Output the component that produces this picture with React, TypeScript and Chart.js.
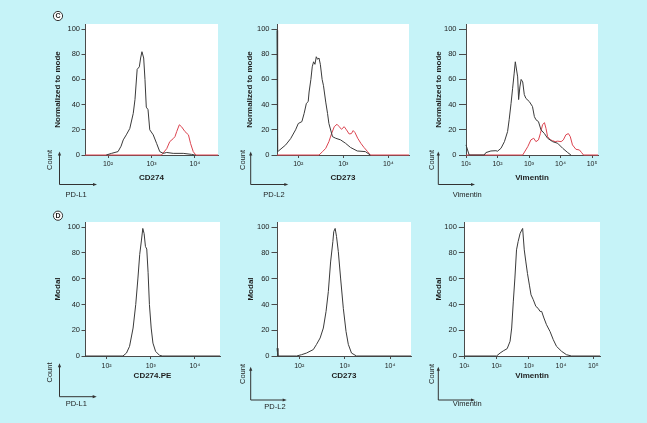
import React, { useEffect, useRef } from 'react';
import { Chart, registerables } from 'chart.js';
Chart.register(...registerables);

// ---------- DATA (x = log10 of fluorescence intensity, y = % of mode) ----------
// Panel C, CD274 (PD-L1)
const cd274BlackExp = [1.96, 2.08, 2.23, 2.30, 2.35, 2.42, 2.50, 2.58, 2.62, 2.67, 2.72, 2.75, 2.78, 2.82, 2.85, 2.88, 2.92, 2.96, 3.04, 3.12, 3.19, 3.27, 3.35, 3.50, 3.73, 3.92, 4.0];
const cd274BlackPct = [0, 1.3, 2.7, 7, 12, 16, 21, 33, 44, 68, 70, 77, 82, 77, 60, 38, 36, 20, 16, 9, 2.7, 1.3, 2, 1.3, 1.3, 0.5, 0];
const cd274RedExp = [1.47, 3.23, 3.35, 3.42, 3.50, 3.54, 3.58, 3.64, 3.69, 3.77, 3.85, 3.90, 3.96, 4.02, 4.53];
const cd274RedPct = [0, 0, 5, 10.6, 13, 14.6, 18.6, 24, 22.5, 18.6, 16, 9, 2.7, 0, 0];

// Panel C, CD273 (PD-L2)
const cd273BlackExp = [1.527, 1.54, 1.56, 1.72, 1.83, 1.94, 2.0, 2.08, 2.13, 2.18, 2.22, 2.24, 2.28, 2.31, 2.34, 2.37, 2.40, 2.43, 2.46, 2.49, 2.53, 2.56, 2.61, 2.65, 2.68, 2.76, 2.83, 2.94, 3.05, 3.16, 3.31, 3.49, 3.60];
const cd273BlackPct = [99, 3, 3.2, 8, 13, 20, 25, 26.5, 33, 41, 42.4, 50, 60, 70, 74, 72, 78, 76, 77, 72, 60, 55, 42, 33, 25, 14.6, 13.3, 12, 9.3, 6, 3.2, 2.7, 0];
const cd273RedExp = [1.527, 2.46, 2.54, 2.61, 2.68, 2.74, 2.80, 2.86, 2.91, 2.96, 3.02, 3.07, 3.13, 3.18, 3.22, 3.26, 3.32, 3.39, 3.46, 3.54, 3.60, 4.46];
const cd273RedPct = [0, 0, 2.7, 5.3, 10.6, 17, 22.5, 24.4, 22.5, 20.4, 22.5, 20, 16.7, 17, 19.4, 17.8, 13.3, 9.3, 6, 2.7, 0, 0];

// Panel C, Vimentin
const vimBlackExp = [1.0, 1.1, 1.58, 1.63, 1.79, 1.95, 2.0, 2.11, 2.22, 2.32, 2.37, 2.43, 2.48, 2.53, 2.565, 2.64, 2.67, 2.71, 2.75, 2.80, 2.85, 2.90, 3.01, 3.11, 3.17, 3.22, 3.30, 3.38, 3.49, 3.59, 3.75, 3.91, 4.07, 4.23, 4.33];
const vimBlackPct = [8, 0, 0, 1.9, 3.2, 3.4, 3, 5.3, 10.6, 18.6, 28, 41, 53, 65, 74, 62, 44, 54, 60, 58, 48, 45, 42.4, 38.5, 30.5, 28, 26.5, 20, 17, 13.3, 10.6, 9.3, 5.3, 1.9, 0];
const vimRedExp = [1.0, 2.80, 2.96, 3.06, 3.15, 3.22, 3.30, 3.36, 3.43, 3.49, 3.54, 3.59, 3.68, 3.75, 3.83, 3.91, 4.02, 4.09, 4.17, 4.25, 4.31, 4.38, 4.49, 4.60, 4.67, 4.73, 5.19];
const vimRedPct = [0, 0, 6.6, 12, 13.3, 10.6, 12, 17, 24, 25.7, 21, 14.6, 12, 11.4, 10.6, 11, 10.6, 12, 16, 17, 14.6, 8, 4.5, 4, 1.9, 0, 0];

// Panel D, CD274.PE
const cd274PeExp = [1.51, 2.37, 2.45, 2.52, 2.60, 2.66, 2.71, 2.75, 2.79, 2.82, 2.85, 2.88, 2.91, 2.94, 2.97, 3.01, 3.05, 3.11, 3.20, 3.27, 4.57];
const cd274PeModal = [0, 0, 2.3, 7.5, 21.7, 40, 60.5, 78.8, 90, 99, 95, 85, 83, 65, 40, 21.7, 10, 3.6, 0.5, 0, 0];

// Panel D, CD273
const cd273DExp = [1.51, 1.53, 1.94, 2.05, 2.16, 2.31, 2.38, 2.46, 2.53, 2.59, 2.64, 2.69, 2.74, 2.76, 2.79, 2.82, 2.86, 2.91, 2.97, 3.03, 3.08, 3.15, 3.26, 4.46];
const cd273DModal = [6, 0, 0, 1, 2.3, 5, 9, 14, 21.7, 34.6, 50, 73, 88.8, 96.6, 99, 92.8, 81, 60.5, 37, 19, 9, 2.3, 0, 0];

// Panel D, Vimentin
const vimDExp = [1.0, 2.00, 2.11, 2.21, 2.33, 2.42, 2.47, 2.52, 2.57, 2.62, 2.67, 2.73, 2.78, 2.81, 2.86, 2.91, 2.96, 3.02, 3.07, 3.14, 3.22, 3.29, 3.35, 3.40, 3.47, 3.55, 3.66, 3.76, 3.86, 4.02, 4.17, 4.33, 5.21];
const vimDModal = [0, 0, 2.3, 4, 5.7, 11.4, 21.7, 42, 60.5, 82.4, 88.8, 95, 97.7, 99, 82.4, 73, 64, 55, 47.5, 43.7, 38.5, 37, 34.6, 34.6, 29.5, 24.3, 19, 12.7, 7.5, 3.6, 1, 0, 0];

// Axis ranges (log10 units) and ticks
const cd274CRange = [1.47, 4.53];
const cd273CRange = [1.527, 4.46];
const vimCRange = [1.0, 5.19];
const cd274DRange = [1.51, 4.57];
const cd273DRange = [1.51, 4.46];
const vimDRange = [1.0, 5.21];
const yTickValues = [0, 20, 40, 60, 80, 100];
const xTicksCD = [2, 3, 4];
const xTickLabelsCD = ['10²', '10³', '10⁴'];
const xTicksVim = [1, 2, 3, 4, 5];
const xTickLabelsVim = ['10¹', '10²', '10³', '10⁴', '10⁵'];

// ---------- STYLE ----------
const FONT = '"Liberation Sans", Arial, Helvetica, sans-serif';
const BG = '#c6f3f8';
const BLACK_LINE = '#3a3a3a';
const RED_LINE = '#dc4450';
const AXIS = '#4a4a4a';
const TEXT = '#1e1e1e';

type Series = { exp: number[]; val: number[]; color: string };
type Panel = {
  left: number; top: number; width: number; height: number;
  pad: { left: number; top: number; right: number; bottom: number };
  yAxisWidth: number; xAxisHeight: number; yTickLen: number; yTickPad: number; xTickPad: number;
  range: number[]; xTicks: number[]; xLabels: string[];
  xTitle: string; yTitle: string; series: Series[];
  letter?: string; letterX?: number; letterY?: number;
  countX: number; countY: number; arrowX: number; arrowTop: number; arrowBottom: number; arrowRight: number;
  marker: string; markerX: number; markerY: number;
};

const panels: Panel[] = [
  {
    left: 0, top: 0, width: 222, height: 205,
    pad: { left: 53.2, top: 24, right: 4, bottom: 22 }, yAxisWidth: 31.8, xAxisHeight: 28,
    yTickLen: 3.5, yTickPad: 1.5, xTickPad: 1.5,
    range: cd274CRange, xTicks: xTicksCD, xLabels: xTickLabelsCD,
    xTitle: 'CD274', yTitle: 'Normalized to mode',
    series: [
      { exp: cd274BlackExp, val: cd274BlackPct, color: BLACK_LINE },
      { exp: cd274RedExp, val: cd274RedPct, color: RED_LINE },
    ],
    letter: 'C', letterX: 58, letterY: 16,
    countX: 50, countY: 160, arrowX: 59.5, arrowTop: 151.5, arrowBottom: 184.5, arrowRight: 97,
    marker: 'PD-L1', markerX: 65.5, markerY: 195,
  },
  {
    left: 222, top: 0, width: 203, height: 205,
    pad: { left: 23.2, top: 24, right: 16, bottom: 22 }, yAxisWidth: 31.8, xAxisHeight: 28,
    yTickLen: 5.5, yTickPad: 2, xTickPad: 1.5,
    range: cd273CRange, xTicks: xTicksCD, xLabels: xTickLabelsCD,
    xTitle: 'CD273', yTitle: 'Normalized to mode',
    series: [
      { exp: cd273BlackExp, val: cd273BlackPct, color: BLACK_LINE },
      { exp: cd273RedExp, val: cd273RedPct, color: RED_LINE },
    ],
    countX: 20.7, countY: 160, arrowX: 28.7, arrowTop: 151.5, arrowBottom: 184.5, arrowRight: 66.3,
    marker: 'PD-L2', markerX: 41.3, markerY: 195,
  },
  {
    left: 425, top: 0, width: 222, height: 205,
    pad: { left: 8.5, top: 24, right: 49, bottom: 22 }, yAxisWidth: 32.5, xAxisHeight: 28,
    yTickLen: 7, yTickPad: 2.5, xTickPad: 1.5,
    range: vimCRange, xTicks: xTicksVim, xLabels: xTickLabelsVim,
    xTitle: 'Vimentin', yTitle: 'Normalized to mode',
    series: [
      { exp: vimBlackExp, val: vimBlackPct, color: BLACK_LINE },
      { exp: vimRedExp, val: vimRedPct, color: RED_LINE },
    ],
    countX: 6.7, countY: 160, arrowX: 13.3, arrowTop: 151.5, arrowBottom: 184.5, arrowRight: 50,
    marker: 'Vimentin', markerX: 27.7, markerY: 195,
  },
  {
    left: 0, top: 205, width: 222, height: 218,
    pad: { left: 53, top: 17, right: 2, bottom: 42 }, yAxisWidth: 32, xAxisHeight: 25,
    yTickLen: 3.5, yTickPad: 1.5, xTickPad: 2.5,
    range: cd274DRange, xTicks: xTicksCD, xLabels: xTickLabelsCD,
    xTitle: 'CD274.PE', yTitle: 'Modal',
    series: [{ exp: cd274PeExp, val: cd274PeModal, color: BLACK_LINE }],
    letter: 'D', letterX: 58, letterY: 10.7,
    countX: 50, countY: 167.5, arrowX: 59.5, arrowTop: 158.3, arrowBottom: 191.7, arrowRight: 96.7,
    marker: 'PD-L1', markerX: 65.7, markerY: 199.3,
  },
  {
    left: 222, top: 205, width: 203, height: 218,
    pad: { left: 23.9, top: 17, right: 14, bottom: 42 }, yAxisWidth: 31.1, xAxisHeight: 25,
    yTickLen: 5.5, yTickPad: 2, xTickPad: 2.5,
    range: cd273DRange, xTicks: xTicksCD, xLabels: xTickLabelsCD,
    xTitle: 'CD273', yTitle: 'Modal',
    series: [{ exp: cd273DExp, val: cd273DModal, color: BLACK_LINE }],
    countX: 21.3, countY: 169, arrowX: 28.7, arrowTop: 161.7, arrowBottom: 195, arrowRight: 64.7,
    marker: 'PD-L2', markerX: 42.3, markerY: 202,
  },
  {
    left: 425, top: 205, width: 222, height: 218,
    pad: { left: 8.5, top: 17, right: 47, bottom: 42 }, yAxisWidth: 30.8, xAxisHeight: 25,
    yTickLen: 5.5, yTickPad: 2, xTickPad: 2.5,
    range: vimDRange, xTicks: xTicksVim, xLabels: xTickLabelsVim,
    xTitle: 'Vimentin', yTitle: 'Modal',
    series: [{ exp: vimDExp, val: vimDModal, color: BLACK_LINE }],
    countX: 7, countY: 169, arrowX: 13.3, arrowTop: 161.7, arrowBottom: 195, arrowRight: 50,
    marker: 'Vimentin', markerX: 27.7, markerY: 199.3,
  },
];

function makeExtras(p: Panel) {
  return {
    id: 'panelExtras',
    beforeDraw(chart: any) {
      const { ctx, chartArea } = chart;
      ctx.save();
      ctx.fillStyle = '#ffffff';
      ctx.fillRect(chartArea.left, chartArea.top, chartArea.right - chartArea.left, chartArea.bottom - chartArea.top);
      ctx.restore();
    },
    afterDraw(chart: any) {
      const ctx: CanvasRenderingContext2D = chart.ctx;
      ctx.save();
      ctx.fillStyle = TEXT;
      ctx.strokeStyle = '#333';
      ctx.lineWidth = 1;
      // circled panel letter
      if (p.letter) {
        ctx.beginPath();
        ctx.arc(p.letterX!, p.letterY!, 4.6, 0, Math.PI * 2);
        ctx.fillStyle = '#ffffff';
        ctx.fill();
        ctx.stroke();
        ctx.fillStyle = TEXT;
        ctx.font = `bold 7px ${FONT}`;
        ctx.textAlign = 'center';
        ctx.textBaseline = 'middle';
        ctx.fillText(p.letter, p.letterX!, p.letterY! + 0.5);
      }
      // "Count" label
      ctx.font = `7.5px ${FONT}`;
      ctx.save();
      ctx.translate(p.countX, p.countY);
      ctx.rotate(-Math.PI / 2);
      ctx.textAlign = 'center';
      ctx.textBaseline = 'middle';
      ctx.fillText('Count', 0, 0);
      ctx.restore();
      // axes arrows
      ctx.strokeStyle = '#333';
      ctx.beginPath();
      ctx.moveTo(p.arrowX, p.arrowBottom);
      ctx.lineTo(p.arrowX, p.arrowTop + 3);
      ctx.moveTo(p.arrowX, p.arrowBottom);
      ctx.lineTo(p.arrowRight - 3, p.arrowBottom);
      ctx.stroke();
      ctx.fillStyle = '#333';
      ctx.beginPath();
      ctx.moveTo(p.arrowX, p.arrowTop);
      ctx.lineTo(p.arrowX - 1.6, p.arrowTop + 4);
      ctx.lineTo(p.arrowX + 1.6, p.arrowTop + 4);
      ctx.closePath();
      ctx.fill();
      ctx.beginPath();
      ctx.moveTo(p.arrowRight, p.arrowBottom);
      ctx.lineTo(p.arrowRight - 4, p.arrowBottom - 1.6);
      ctx.lineTo(p.arrowRight - 4, p.arrowBottom + 1.6);
      ctx.closePath();
      ctx.fill();
      // marker label
      ctx.fillStyle = TEXT;
      ctx.font = `7.5px ${FONT}`;
      ctx.textAlign = 'left';
      ctx.textBaseline = 'middle';
      ctx.fillText(p.marker, p.markerX, p.markerY);
      ctx.restore();
    },
  };
}

function PanelChart({ p }: { p: Panel }) {
  const ref = useRef<HTMLCanvasElement | null>(null);
  useEffect(() => {
    if (!ref.current) return;
    const datasets = p.series.map((s) => ({
      data: s.exp.map((e, i) => ({ x: e, y: s.val[i] })),
      borderColor: s.color,
      borderWidth: 1,
      pointRadius: 0,
      tension: 0,
      fill: false,
      clip: 3,
    }));
    const chart = new Chart(ref.current, {
      type: 'line',
      data: { datasets },
      options: {
        animation: false,
        responsive: false,
        maintainAspectRatio: false,
        devicePixelRatio: 1,
        layout: { padding: p.pad },
        plugins: { legend: { display: false }, tooltip: { enabled: false } },
        scales: {
          x: {
            type: 'linear',
            min: p.range[0],
            max: p.range[1],
            afterBuildTicks: (s: any) => { s.ticks = p.xTicks.map((v) => ({ value: v })); },
            afterFit: (s: any) => { s.height = p.xAxisHeight; },
            ticks: {
              callback: (_v: any, i: number) => p.xLabels[i],
              font: { family: FONT, size: 7 },
              color: TEXT,
              padding: p.xTickPad,
              maxRotation: 0,
              autoSkip: false,
            },
            grid: { drawOnChartArea: false, drawTicks: true, tickLength: 3, color: AXIS },
            border: { display: true, color: AXIS, width: 1 },
            title: { display: true, text: p.xTitle, font: { family: FONT, size: 8, weight: 'bold' }, color: TEXT, padding: { top: 0, bottom: 0 } },
          },
          y: {
            type: 'linear',
            min: 0,
            max: 104,
            afterBuildTicks: (s: any) => { s.ticks = yTickValues.map((v) => ({ value: v })); },
            afterFit: (s: any) => { s.width = p.yAxisWidth; },
            ticks: { font: { family: FONT, size: 7.5 }, color: TEXT, padding: p.yTickPad },
            grid: { drawOnChartArea: false, drawTicks: true, tickLength: p.yTickLen, color: AXIS },
            border: { display: true, color: AXIS, width: 1 },
            title: { display: true, text: p.yTitle, font: { family: FONT, size: 8, weight: 'bold' }, color: TEXT, padding: { top: 0, bottom: 0 } },
          },
        },
      },
      plugins: [makeExtras(p)],
    } as any);
    return () => chart.destroy();
  }, [p]);
  return (
    <canvas
      ref={ref}
      width={p.width}
      height={p.height}
      style={{ position: 'absolute', left: p.left, top: p.top, width: p.width, height: p.height }}
    />
  );
}

export default function App() {
  return (
    <div style={{ position: 'absolute', left: 0, top: 0, width: 647, height: 423, background: BG, overflow: 'hidden' }}>
      {panels.map((p, i) => (
        <PanelChart key={i} p={p} />
      ))}
    </div>
  );
}
